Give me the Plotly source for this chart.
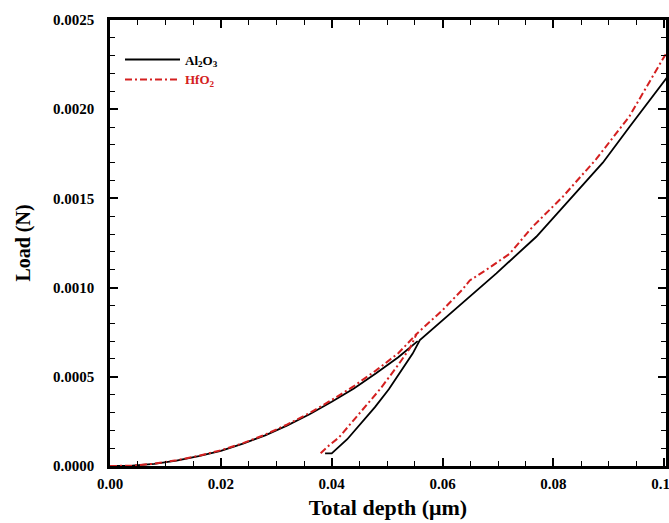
import plotly.graph_objects as go

# Al2O3 (black) - loading branch
al_load_x = [0.000, 0.004, 0.008, 0.012, 0.016, 0.020, 0.024, 0.028, 0.032, 0.036, 0.040, 0.044, 0.048, 0.052, 0.0555]
al_load_y = [0.0, 0.000002, 0.000012, 0.000030, 0.000055, 0.000085, 0.000125, 0.000172, 0.000228, 0.000290, 0.000360, 0.000435, 0.000520, 0.000610, 0.000700]
# Al2O3 - unloading / upper branch
al_up_x = [0.0388, 0.0400, 0.0428, 0.0453, 0.0478, 0.0503, 0.0527, 0.0546, 0.0559, 0.0600, 0.0649, 0.0697, 0.0769, 0.0817, 0.0889, 0.0937, 0.0997, 0.1004]
al_up_y = [0.000071, 0.000071, 0.000150, 0.000240, 0.000330, 0.000430, 0.000540, 0.000630, 0.000706, 0.000818, 0.000949, 0.001080, 0.001285, 0.001450, 0.001700, 0.001900, 0.002150, 0.002175]

# HfO2 (red) - loading branch
hf_load_x = [0.000, 0.004, 0.008, 0.012, 0.016, 0.020, 0.024, 0.028, 0.032, 0.036, 0.040, 0.044, 0.048, 0.052, 0.0553]
hf_load_y = [0.0, 0.000002, 0.000013, 0.000032, 0.000057, 0.000088, 0.000128, 0.000176, 0.000233, 0.000297, 0.000370, 0.000448, 0.000536, 0.000632, 0.000740]
# HfO2 - unloading / upper branch
hf_up_x = [0.0380, 0.0393, 0.0413, 0.0435, 0.0458, 0.0487, 0.0516, 0.0541, 0.0553, 0.0600, 0.0636, 0.0649, 0.0679, 0.0721, 0.0762, 0.0817, 0.0877, 0.0937, 0.0997, 0.1004]
hf_up_y = [0.000071, 0.000110, 0.000160, 0.000240, 0.000320, 0.000430, 0.000550, 0.000660, 0.000740, 0.000874, 0.000990, 0.001040, 0.001100, 0.001190, 0.001340, 0.001510, 0.001720, 0.001960, 0.002280, 0.002315]

FONT = "Liberation Serif"

fig = go.Figure()
fig.add_trace(go.Scatter(
    x=al_load_x + [None] + al_up_x, y=al_load_y + [None] + al_up_y,
    mode="lines", name="Al<sub>2</sub>O<sub>3</sub>",
    line=dict(color="black", width=1.8), connectgaps=False))
fig.add_trace(go.Scatter(
    x=hf_load_x + [None] + hf_up_x, y=hf_load_y + [None] + hf_up_y,
    mode="lines", name='<span style="color:#d42020">HfO<sub>2</sub></span>',
    line=dict(color="#d42020", width=2, dash="7px,3px,2px,3px"), connectgaps=False))

axis_common = dict(
    showline=True, linecolor="black", linewidth=2.5, mirror="ticks",
    ticks="inside", ticklen=8, tickwidth=1.6, tickcolor="black",
    showgrid=False, zeroline=False, automargin=False,
    ticklabeloverflow="allow",
    tickfont=dict(family=FONT, size=15, color="black", weight="bold"),
)

fig.update_xaxes(
    range=[0, 0.1003], tick0=0, dtick=0.02, tickformat=".2f",
    minor=dict(ticks="inside", ticklen=5, tickwidth=1.3, tickcolor="black", dtick=0.005),
    title=dict(text="<b>Total depth (μm)</b>", font=dict(family=FONT, size=22, color="black"), standoff=9),
    ticklabelstandoff=2,
    **axis_common)
fig.update_yaxes(
    range=[0, 0.0025], tick0=0, dtick=0.0005, tickformat=".4f",
    minor=dict(ticks="inside", ticklen=5, tickwidth=1.3, tickcolor="black", dtick=0.0001),
    title=dict(text="<b>Load (N)</b>", font=dict(family=FONT, size=20, color="black"), standoff=18),
    ticklabelstandoff=10,
    **axis_common)

fig.update_layout(
    width=669, height=523,
    margin=dict(l=110, r=3, t=20, b=57),
    plot_bgcolor="white", paper_bgcolor="white",
    showlegend=True,
    legend=dict(x=0.018, y=0.945, xanchor="left", yanchor="top",
                bgcolor="rgba(0,0,0,0)", tracegroupgap=0, itemwidth=55,
                font=dict(family=FONT, size=13, color="black", weight="bold")),
)

fig.write_html("out.html",
               config={"displayModeBar": False},
               post_script="document.body.style.margin='0';document.body.style.overflow='hidden';")
